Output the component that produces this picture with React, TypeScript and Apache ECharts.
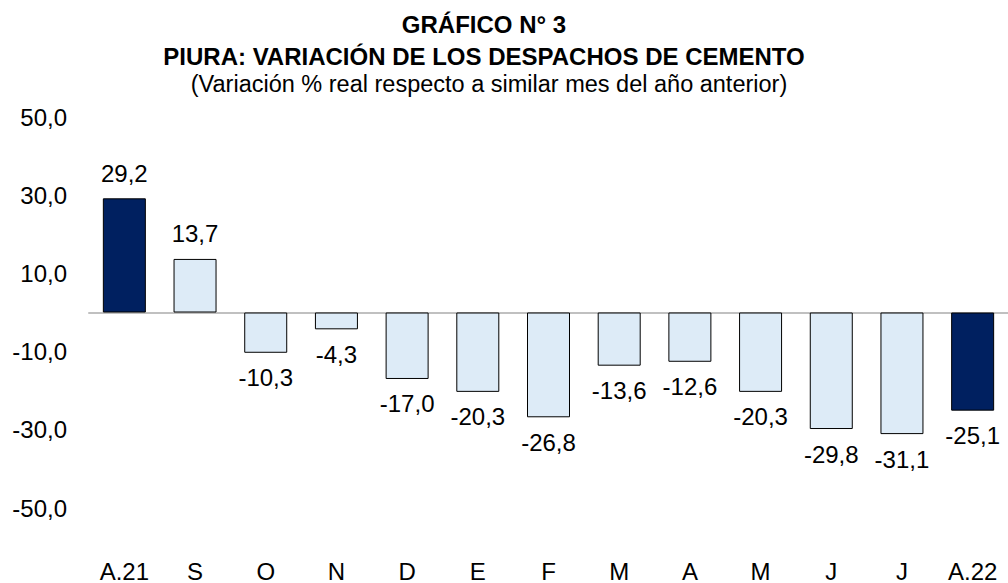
import React, { useEffect, useRef } from "react";
import * as echarts from "echarts";

const categories = ["A.21", "S", "O", "N", "D", "E", "F", "M", "A", "M", "J", "J", "A.22"];
const values = [29.2, 13.7, -10.3, -4.3, -17.0, -20.3, -26.8, -13.6, -12.6, -20.3, -29.8, -31.1, -25.1];
const highlighted = [0, 12];
const yTicks = { min: -50, max: 50, interval: 20 };

const titleLines = [
  "GRÁFICO N° 3",
  "PIURA: VARIACIÓN DE LOS DESPACHOS DE CEMENTO",
  "(Variación % real respecto a similar mes del año anterior)",
];

const FONT = "Arial, 'Liberation Sans', sans-serif";
const DARK = "#002060";
const LIGHT = "#DDEBF7";

const fmt = (v: number) => v.toFixed(1).replace(".", ",");

export default function App() {
  const ref = useRef<HTMLDivElement>(null);
  useEffect(() => {
    if (!ref.current) return;
    const chart = echarts.init(ref.current, undefined, { renderer: "svg" });
    const data = values.map((v, i) => ({
      value: v,
      itemStyle: {
        color: highlighted.includes(i) ? DARK : LIGHT,
        borderColor: "#000000",
        borderWidth: 1,
      },
      label: { position: v >= 0 ? "top" : "bottom" },
    }));
    chart.setOption({
      animation: false,
      backgroundColor: "#ffffff",
      graphic: [
        {
          type: "text",
          x: 484,
          y: 24,
          style: {
            text: titleLines[0],
            font: `bold 24px ${FONT}`,
            fill: "#000",
            textAlign: "center",
            textVerticalAlign: "middle",
          },
        },
        {
          type: "text",
          x: 484,
          y: 56,
          style: {
            text: titleLines[1],
            font: `bold 24px ${FONT}`,
            fill: "#000",
            textAlign: "center",
            textVerticalAlign: "middle",
          },
        },
        {
          type: "text",
          x: 489,
          y: 84,
          style: {
            text: titleLines[2],
            font: `23.5px ${FONT}`,
            fill: "#000",
            textAlign: "center",
            textVerticalAlign: "middle",
          },
        },
      ],
      grid: { left: 89, width: 926, top: 117, height: 392, containLabel: false },
      xAxis: {
        type: "category",
        data: categories,
        axisLine: { show: true, onZero: true, lineStyle: { color: "#c0c0c0", width: 2 } },
        axisTick: { show: false },
        axisLabel: {
          interval: 0,
          color: "#000",
          fontSize: 24,
          fontFamily: FONT,
          margin: 51,
        },
        z: 1,
      },
      yAxis: {
        type: "value",
        min: yTicks.min,
        max: yTicks.max,
        interval: yTicks.interval,
        axisLine: { show: false },
        axisTick: { show: false },
        splitLine: { show: false },
        axisLabel: {
          color: "#000",
          fontSize: 24,
          fontFamily: FONT,
          margin: 22,
          formatter: (v: number) => fmt(v),
        },
      },
      series: [
        {
          type: "bar",
          data,
          barWidth: 43,
          z: 2,
          label: {
            show: true,
            color: "#000",
            fontSize: 24,
            fontFamily: FONT,
            distance: 13,
            formatter: (p: any) => fmt(p.value),
          },
        },
      ],
    });
    return () => chart.dispose();
  }, []);
  return (
    <div
      ref={ref}
      style={{ position: "absolute", left: 0, top: 0, width: 1008, height: 583 }}
    />
  );
}
